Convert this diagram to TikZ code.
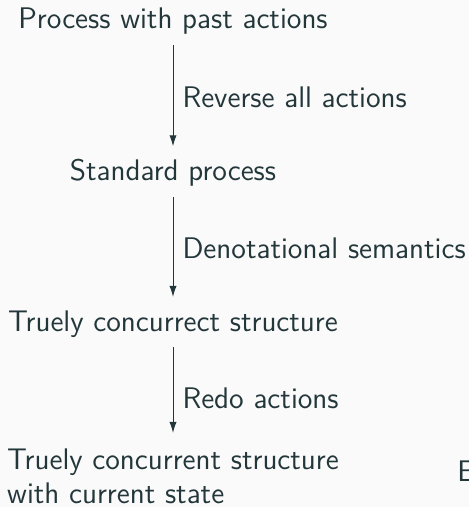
\documentclass[tikz,border=0pt]{standalone}
\usepackage{fontspec}
\usetikzlibrary{arrows.meta}
\definecolor{mDarkTeal}{HTML}{23373B}
\definecolor{mBackground}{HTML}{FAFAFA}
\begin{document}
\begin{tikzpicture}[x=0.5pt,y=-0.5pt,
  stage/.style={text=mDarkTeal,inner sep=5pt,anchor=base,
    font=\sffamily\fontsize{14.9}{17}\selectfont},
  move/.style={draw=mDarkTeal,line width=0.5pt,shorten >=1.5pt,
    -{Latex[length=5.5pt,width=3.6pt]}},
  why/.style={text=mDarkTeal,inner sep=4.5pt,anchor=west,
    font=\sffamily\fontsize{14.9}{17}\selectfont}]
\useasboundingbox[fill=mBackground] (0,0) rectangle (469,507);
% the four stages
\node[stage] (past) at (173,29) {Process with past actions};
\node[stage] (std) at (173,181) {Standard process};
\node[stage] (tcs) at (173,331) {Truely concurrect structure};
\node[stage,align=left] (cur) at (173,503)
  {Truely concurrent structure\\with current state};
\node[stage,anchor=base west] (cut) at (447,481) {E};
% the steps between them
\draw[move] (past) -- node[why] {Reverse all actions} (std);
\draw[move] (std) -- node[why] {Denotational semantics} (tcs);
\draw[move,shorten >=2.5pt] (tcs) -- node[why,pos=0.56] {Redo actions} (cur);
\end{tikzpicture}
\end{document}
